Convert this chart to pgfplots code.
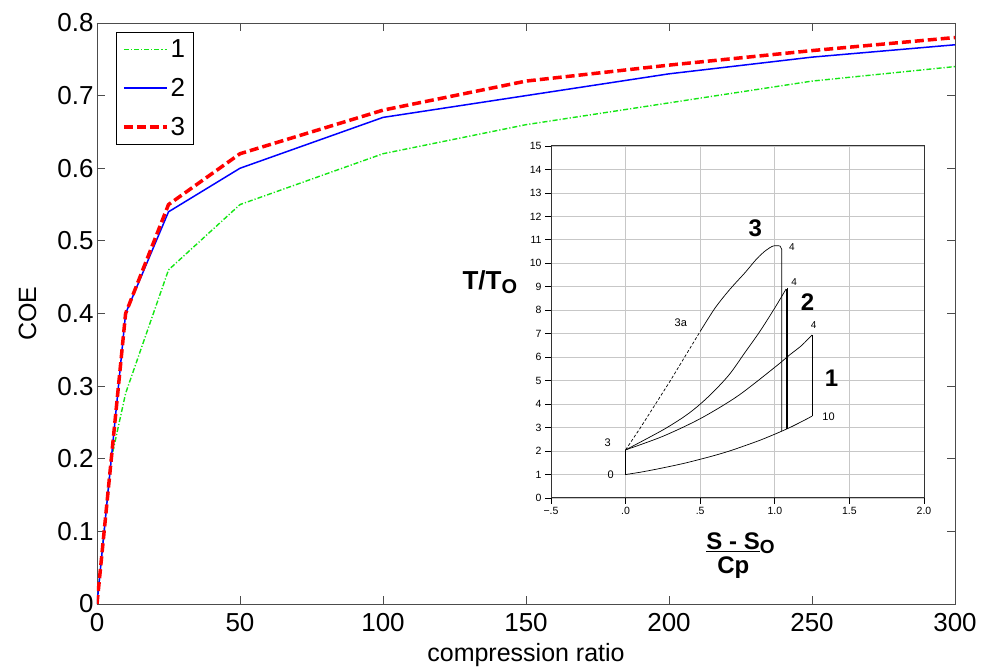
\documentclass[border=0pt]{standalone}
\usepackage{pgfplots}
\pgfplotsset{compat=1.18}
\usepackage{fontspec}
\setmainfont{Liberation Sans}

\definecolor{mgreen}{RGB}{20,230,20}
\definecolor{mred}{RGB}{255,0,0}

\begin{document}
\begin{tikzpicture}
    % main COE chart
    \begin{axis}[
            name=main,
            at={(0,0)}, anchor=south west,
            scale only axis,
            width=858pt, height=581pt,
            xmin=0, xmax=300, ymin=0, ymax=0.8,
            xtick={0,50,100,150,200,250,300},
            xticklabels={0,50,100,150,200,250,300},
            ytick={0,0.1,0.2,0.3,0.4,0.5,0.6,0.7,0.8},
            yticklabels={0,0.1,0.2,0.3,0.4,0.5,0.6,0.7,0.8},
            tick label style={font=\fontsize{26}{28}\selectfont},
            xticklabel style={yshift=-6pt},
            label style={font=\fontsize{25}{28}\selectfont},
            xlabel={compression ratio},
            ylabel={COE},
            xlabel style={yshift=-5pt},
            ylabel style={yshift=14pt},
            tick align=inside,
            major tick length=8pt,
            axis line style={black!70},
            every tick/.style={black!70, line width=0.8pt},
            legend style={
                    at={(0.022,0.985)}, anchor=north west,
                    font=\fontsize{26}{30}\selectfont,
                    inner sep=6pt, row sep=15pt,
                },
            legend cell align=left,
            legend image code/.code={\draw[#1] (0pt,0pt) -- (43pt,0pt);},
        ]
        \addplot[draw=mgreen, line width=1.4pt, dash pattern=on 5pt off 2pt on 1.2pt off 2pt] coordinates {
                (0,0) (5,0.20) (10,0.29) (25,0.46) (50,0.55) (100,0.62)
                (150,0.66) (200,0.69) (250,0.72) (300,0.74)
            };
        \addlegendentry{1}
        \addplot[draw=blue, line width=1.5pt] coordinates {
                (0,0) (5,0.20) (10,0.40) (25,0.54) (50,0.60) (100,0.67)
                (150,0.70) (200,0.73) (250,0.753) (300,0.77)
            };
        \addlegendentry{2}
        \addplot[draw=mred, line width=3.5pt, dash pattern=on 9pt off 4pt] coordinates {
                (0,0) (5,0.20) (10,0.40) (25,0.55) (50,0.62) (100,0.68)
                (150,0.72) (200,0.742) (250,0.762) (300,0.78)
            };
        \addlegendentry{3}
    \end{axis}

    % inset T-s diagram
    \begin{axis}[
            at={(454pt,106pt)}, anchor=south west,
            scale only axis,
            width=373pt, height=352pt,
            xmin=-0.5, xmax=2, ymin=0, ymax=15,
            xtick={-0.5,0,0.5,1,1.5,2},
            xticklabels={−.5,.0,.5,1.0,1.5,2.0},
            ytick={0,1,...,15},
            yticklabels={0,1,2,3,4,5,6,7,8,9,10,11,12,13,14,15},
            tick label style={font=\fontsize{10.5}{12}\selectfont},
            grid=major,
            grid style={black!22, line width=0.8pt},
            tick align=outside, tick pos=left,
            major tick length=6pt,
            every tick/.style={black, line width=0.8pt},
            axis line style={black!80, line width=1pt},
            axis background/.style={fill=white},
            clip=false,
        ]
        % lower isobar 0 -> 10
        \addplot[black, line width=0.7pt, smooth] coordinates {
                (0,1.0) (0.1,1.1) (0.2,1.22) (0.3,1.35) (0.4,1.49) (0.5,1.65)
                (0.6,1.82) (0.7,2.01) (0.8,2.23) (0.9,2.46) (1.0,2.72)
                (1.1,3.0) (1.2,3.32) (1.25,3.49)
            };
        \addplot[black, line width=0.7pt] coordinates {(0,1.0) (0,2.05)};
        % cycle 1
        \addplot[black, line width=0.7pt, smooth] coordinates {
                (0,2.05) (0.25,2.63) (0.5,3.38) (0.75,4.34) (1.0,5.57)
                (1.1,6.1) (1.18,6.5) (1.25,6.95)
            };
        \addplot[black, line width=0.7pt] coordinates {(1.25,6.95) (1.25,3.49)};
        % cycle 2
        \addplot[black, line width=0.7pt, smooth] coordinates {
                (0,2.05) (0.25,2.9) (0.4,3.5) (0.5,4.0) (0.6,4.6) (0.7,5.3) (0.8,6.2)
                (0.9,7.1) (1.0,8.1) (1.075,8.9)
            };
        \addplot[black, line width=0.7pt] coordinates {(1.075,8.9) (1.075,2.93)};
        \addplot[black, line width=0.7pt] coordinates {(1.085,8.95) (1.085,2.96)};
        % cycle 3
        \addplot[black, line width=0.7pt, dash pattern=on 3pt off 2pt] coordinates {
                (0,2.05) (0.1,3.0) (0.2,4.0) (0.3,5.0) (0.4,6.05) (0.5,7.1)
            };
        \addplot[black, line width=0.7pt, smooth] coordinates {
                (0.5,7.1) (0.6,8.1) (0.7,8.9) (0.8,9.6) (0.88,10.2) (0.94,10.55) (0.99,10.74)
                (1.035,10.74)
            };
        \addplot[black, line width=0.7pt] coordinates {(1.035,10.74) (1.046,10.6) (1.046,2.85)};
        % point labels
        \node[font=\fontsize{11}{12}\selectfont] at (axis cs:0.37,7.45) {3a};
        \node[font=\fontsize{11}{12}\selectfont] at (axis cs:-0.12,2.35) {3};
        \node[font=\fontsize{11}{12}\selectfont] at (axis cs:-0.1,0.98) {0};
        \node[font=\fontsize{10}{12}\selectfont] at (axis cs:1.115,10.7) {4};
        \node[font=\fontsize{10}{12}\selectfont] at (axis cs:1.13,9.2) {4};
        \node[font=\fontsize{10}{12}\selectfont] at (axis cs:1.26,7.37) {4};
        \node[font=\fontsize{11}{12}\selectfont] at (axis cs:1.36,3.45) {10};
        \node[font=\fontsize{24}{26}\selectfont\bfseries] at (axis cs:0.87,11.5) {3};
        \node[font=\fontsize{24}{26}\selectfont\bfseries] at (axis cs:1.22,8.35) {2};
        \node[font=\fontsize{24}{26}\selectfont\bfseries] at (axis cs:1.38,5.1) {1};
        % axis titles of the inset
        \node[font=\fontsize{26}{28}\selectfont\bfseries] at (axis cs:-0.91,9.2) {T/T\raisebox{-0.35ex}{\fontsize{20}{22}\selectfont O}};
        \node[font=\fontsize{24}{26}\selectfont\bfseries, align=center, inner sep=0pt] at (axis cs:0.77,-2.45)
            {\underline{S - S}\raisebox{-0.3ex}{\fontsize{19}{20}\selectfont O}\\[-2pt]Cp\hspace*{0.6em}};
    \end{axis}

    \pgfresetboundingbox
    \path (-97pt,-67pt) rectangle (884pt,604pt);
\end{tikzpicture}
\end{document}
